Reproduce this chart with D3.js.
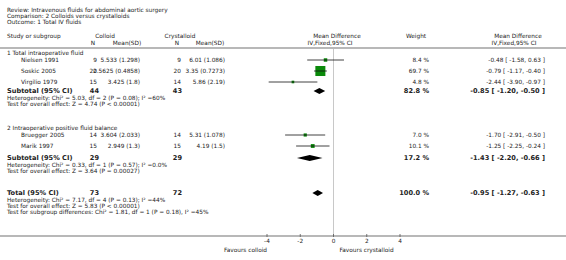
<!DOCTYPE html>
<html>
<head>
<meta charset="utf-8">
<script src="https://cdn.jsdelivr.net/npm/d3@7"></script>
<style>
  html, body { margin: 0; padding: 0; background: #fff; }
  svg text { font-family: "DejaVu Sans", Verdana, sans-serif; fill: #222; }
</style>
</head>
<body>
<div id="chart"></div>
<script>
// forest plot: total IV fluids, colloid vs crystalloid
const titleLines = [
  "Review:  Intravenous fluids for abdominal aortic surgery",
  "Comparison:  2 Colloids versus crystalloids",
  "Outcome:  1 Total IV fluids",
];

const studies = ["Nielsen 1991", "Soskic 2005", "Virgilio 1979", "Bruegger 2005", "Marik 1997"];
const colloidN = [9, 20, 15, 14, 15];
const colloidMeanSD = ["5.533 (1.298)", "2.5625 (0.4858)", "3.425 (1.8)", "3.604 (2.033)", "2.949 (1.3)"];
const crystN = [9, 20, 14, 14, 15];
const crystMeanSD = ["6.01 (1.086)", "3.35 (0.7273)", "5.86 (2.19)", "5.31 (1.078)", "4.19 (1.5)"];
const md = [-0.48, -0.79, -2.44, -1.70, -1.25];
const mdLo = [-1.58, -1.17, -3.90, -2.91, -2.25];
const mdHi = [0.63, -0.40, -0.97, -0.50, -0.24];
const weights = [8.4, 69.7, 4.8, 7.0, 10.1];

const groupNames = ["1 Total intraoperative fluid", "2 Intraoperative positive fluid balance"];
const subN1 = [44, 29];
const subN2 = [43, 29];
const subMd = [-0.85, -1.43];
const subLo = [-1.20, -2.20];
const subHi = [-0.50, -0.66];
const subWeight = [82.8, 17.2];
const subHet = [
  "Heterogeneity: Chi\u00b2 = 5.03, df = 2 (P = 0.08); I\u00b2 =60%",
  "Heterogeneity: Chi\u00b2 = 0.33, df = 1 (P = 0.57); I\u00b2 =0.0%",
];
const subTest = [
  "Test for overall effect: Z = 4.74 (P < 0.00001)",
  "Test for overall effect: Z = 3.64 (P = 0.00027)",
];

const totalN = [73, 72];
const totalMd = -0.95, totalLo = -1.27, totalHi = -0.63, totalWeight = 100.0;
const totalNotes = [
  "Heterogeneity: Chi\u00b2 = 7.17, df = 4 (P = 0.13); I\u00b2 =44%",
  "Test for overall effect: Z = 5.83 (P < 0.00001)",
  "Test for subgroup differences: Chi\u00b2 = 1.81, df = 1 (P = 0.18), I\u00b2 =45%",
];

const axisTicks = [-4, -2, 0, 2, 4];

const width = 566, height = 260;
const svg = d3.select("#chart").append("svg").attr("width", width).attr("height", height);

const fs = 5.8, fsBold = 6.6;
const x = d3.scaleLinear().domain([-4, 4]).range([267, 400]);
// plain hyphen like the RevMan output, not d3's unicode minus
const fmt = (v) => d3.format(".2f")(v).replace("\u2212", "-");
const ci = (m, l, h) => `${fmt(m)} [ ${fmt(l)}, ${fmt(h)} ]`;

// row positions (baselines)
const studyY = [62, 73, 84, 137, 148];
const groupY = [55, 130];
const subY = [93, 160];
const totalY = 195;
const axisY = 236;

const col = { study: 7, n1: 97, m1: 140, n2: 181, m2: 225, weight: 429, ci: 545 };

function txt(xp, yp, s, opts = {}) {
  return svg.append("text")
    .attr("x", xp).attr("y", yp)
    .attr("font-size", opts.size || fs)
    .attr("font-weight", opts.bold ? "bold" : null)
    .attr("text-anchor", opts.anchor || "start")
    .text(s);
}

titleLines.forEach((t, i) => txt(7, 12 + i * 6, t));

// header
txt(col.study, 38, "Study or subgroup");
txt(105, 38, "Colloid", { anchor: "middle" });
txt(93, 45, "N", { anchor: "middle" });
txt(127, 45, "Mean(SD)", { anchor: "middle" });
txt(180, 38, "Crystalloid", { anchor: "middle" });
txt(177, 45, "N", { anchor: "middle" });
txt(210, 45, "Mean(SD)", { anchor: "middle" });
txt(337, 38, "Mean Difference", { anchor: "middle" });
txt(330, 45, "IV,Fixed,95% CI", { anchor: "middle" });
txt(416, 38, "Weight", { anchor: "middle" });
txt(518, 38, "Mean Difference", { anchor: "middle" });
txt(514, 45, "IV,Fixed,95% CI", { anchor: "middle" });

svg.append("line").attr("x1", 0).attr("x2", width).attr("y1", 48).attr("y2", 48)
  .attr("stroke", "#a0a0a0").attr("stroke-width", 1.5);

// zero line
svg.append("line").attr("x1", x(0)).attr("x2", x(0)).attr("y1", 49).attr("y2", axisY)
  .attr("stroke", "#c8c8c8").attr("stroke-width", 1);

const sizeScale = d3.scaleSqrt().domain([0, 100]).range([0, 12]);

// groups
groupNames.forEach((g, gi) => {
  txt(col.study, groupY[gi], g);
  txt(col.study, subY[gi], "Subtotal (95% CI)", { bold: true, size: fsBold });
  txt(col.n1 + 2, subY[gi], subN1[gi], { bold: true, size: fsBold, anchor: "end" });
  txt(col.n2 + 1, subY[gi], subN2[gi], { bold: true, size: fsBold, anchor: "end" });
  txt(col.weight, subY[gi], d3.format(".1f")(subWeight[gi]) + " %", { bold: true, size: fsBold, anchor: "end" });
  txt(col.ci, subY[gi], ci(subMd[gi], subLo[gi], subHi[gi]), { bold: true, size: fsBold, anchor: "end" });
  txt(col.study, subY[gi] + 7, subHet[gi]);
  txt(col.study, subY[gi] + 13, subTest[gi]);
});

// studies
studies.forEach((s, i) => {
  const y = studyY[i];
  txt(col.study + 14, y, s);
  txt(col.n1, y, colloidN[i], { anchor: "end" });
  txt(col.m1, y, colloidMeanSD[i], { anchor: "end" });
  txt(col.n2, y, crystN[i], { anchor: "end" });
  txt(col.m2, y, crystMeanSD[i], { anchor: "end" });
  txt(col.weight, y, d3.format(".1f")(weights[i]) + " %", { anchor: "end" });
  txt(col.ci, y, ci(md[i], mdLo[i], mdHi[i]), { anchor: "end" });

  const cy = y - 2;
  const sz = sizeScale(weights[i]);
  svg.append("rect")
    .attr("x", x(md[i]) - sz / 2).attr("y", cy - sz / 2)
    .attr("width", sz).attr("height", sz)
    .attr("fill", "#0a8a0a");
  svg.append("line")
    .attr("x1", x(mdLo[i])).attr("x2", x(mdHi[i]))
    .attr("y1", cy).attr("y2", cy)
    .attr("stroke", "#111").attr("stroke-width", 0.8);
});

// diamonds
function diamond(m, l, h, cy, hh) {
  svg.append("path")
    .attr("d", `M${x(l)},${cy} L${x(m)},${cy - hh} L${x(h)},${cy} L${x(m)},${cy + hh} Z`)
    .attr("fill", "#000");
}
subMd.forEach((m, gi) => diamond(m, subLo[gi], subHi[gi], subY[gi] - 2, 3));
diamond(totalMd, totalLo, totalHi, totalY - 2, 3);

// total
txt(col.study, totalY, "Total (95% CI)", { bold: true, size: fsBold });
txt(col.n1 + 2, totalY, totalN[0], { bold: true, size: fsBold, anchor: "end" });
txt(col.n2 + 1, totalY, totalN[1], { bold: true, size: fsBold, anchor: "end" });
txt(col.weight, totalY, d3.format(".1f")(totalWeight) + " %", { bold: true, size: fsBold, anchor: "end" });
txt(col.ci, totalY, ci(totalMd, totalLo, totalHi), { bold: true, size: fsBold, anchor: "end" });
totalNotes.forEach((t, i) => txt(col.study, totalY + 7 + i * 6, t));

// axis
svg.append("line").attr("x1", 0).attr("x2", width).attr("y1", axisY).attr("y2", axisY)
  .attr("stroke", "#a0a0a0").attr("stroke-width", 1.5);
const axisG = svg.append("g").attr("transform", `translate(0,${axisY})`);
axisG.selectAll("line.tick")
  .data(axisTicks).join("line")
  .attr("x1", (d) => x(d)).attr("x2", (d) => x(d))
  .attr("y1", -2).attr("y2", 1)
  .attr("stroke", "#555").attr("stroke-width", 0.8);
axisG.selectAll("text.tick")
  .data(axisTicks).join("text")
  .attr("x", (d) => x(d)).attr("y", 7)
  .attr("font-size", fs).attr("text-anchor", "middle")
  .text((d) => d);

txt(x(-4), 252, "Favours colloid", { anchor: "end" });
txt(x(0) + 6, 252, "Favours crystalloid");
</script>
</body>
</html>
